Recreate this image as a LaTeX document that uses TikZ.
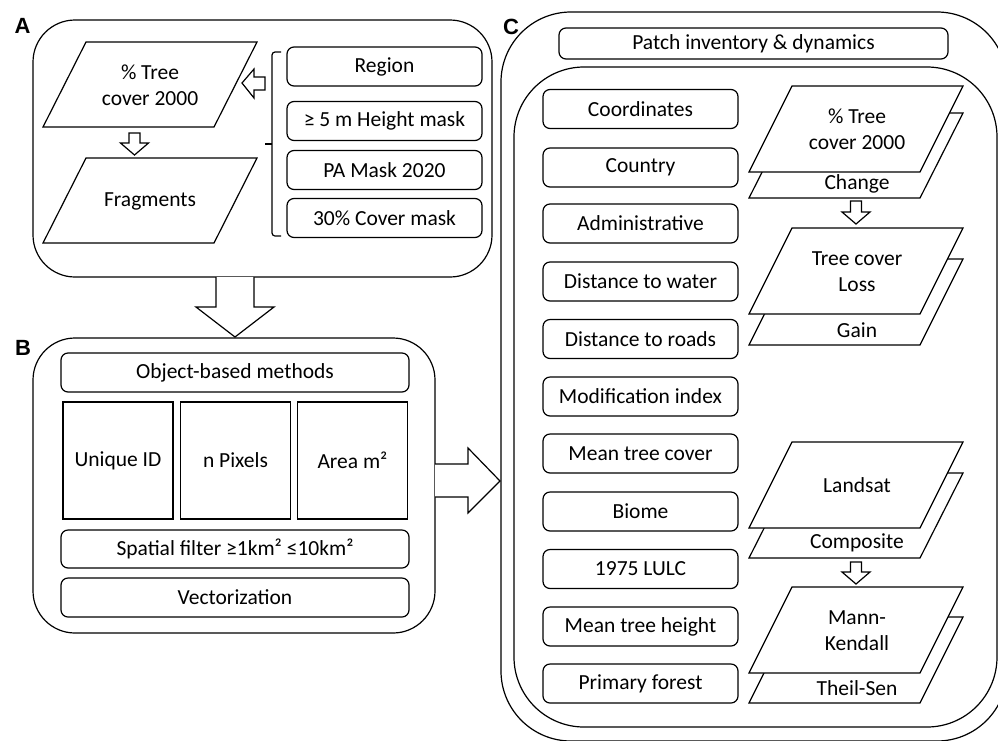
\documentclass[tikz,border=0pt]{standalone}
\usepackage{fontspec}
\setmainfont{Carlito}
\newfontfamily\labfont{Liberation Sans}
\usetikzlibrary{calc}
\newcommand\drawpara[3]{% #1 bottom-left x, #2 top y, #3 height
  \draw[fill=white, line join=miter] (#1+43,#2) -- (#1+214,#2) -- (#1+171,#2+#3) -- (#1,#2+#3) -- cycle;}
\newcommand\dnarrow[3]{% #1 centre x, #2 top y, #3 tip y
  \draw[blockarrow] (#1-5.5,#2) -- (#1+5.5,#2) -- (#1+5.5,#3-12) -- (#1+14,#3-12) -- (#1,#3) -- (#1-14,#3-12) -- (#1-5.5,#3-12) -- cycle;}
\begin{document}
\begin{tikzpicture}[x=1pt,y=-1pt, line width=1.2pt,
  txt/.style={font=\fontsize{21.5}{26}\selectfont, align=center, inner sep=0pt},
  rbox/.style={draw, rounded corners=7pt, fill=white, txt},
  lbox/.style={rbox, minimum width=195pt, minimum height=39pt},
  sqbox/.style={draw, fill=white, txt, minimum width=110pt, minimum height=117pt},
  panel/.style={draw, rounded corners=42pt, inner sep=0pt},
  bigpanel/.style={draw, rounded corners=70pt, inner sep=0pt},
  lab/.style={font=\labfont\bfseries\fontsize{22}{22}\selectfont, inner sep=0pt},
  blockarrow/.style={draw, fill=white, line join=miter}]
\useasboundingbox (0,0) rectangle (998,740);
\clip (0,0) rectangle (998,740);

% ---------------- Panel A ----------------
\node[lab] (labA) at (22.5,26) {A};
\node[panel, minimum width=459pt, minimum height=257pt] (pA) at (262.5,148.5) {};
\drawpara{43}{42}{85}
\node[txt] (tc) at (150,85) {\% Tree\\cover 2000};
\dnarrow{134.5}{133}{155}
\drawpara{43}{158}{85}
\node[txt] (frag) at (150,201) {Fragments};
\node[lbox] (region) at (384.5,66.5) {Region};
\node[lbox] (hmask) at (384.5,121) {≥ 5 m Height mask};
\node[lbox] (pamask) at (384.5,170) {PA Mask 2020};
\node[lbox] (cmask) at (384.5,218) {30\% Cover mask};
\draw[rounded corners=3pt] (281,52) -| (272,236) -- (281,236);
\draw (272,144) -- (265,144);
\draw[blockarrow] (242,83) -- (254,69) -- (254,77) -- (265,77) -- (265,90) -- (254,90) -- (254,98) -- cycle;

% arrow A -> B
\draw[blockarrow] (216,277) -- (216,307) -- (196,307) -- (235,337) -- (274,307) -- (254,307) -- (254,277);

% ---------------- Panel B ----------------
\node[lab] (labB) at (23,348) {B};
\node[panel, minimum width=402pt, minimum height=295pt] (pB) at (234,485.5) {};
\node[rbox, minimum width=348pt, minimum height=39pt] (obm) at (235,372.5) {Object-based methods};
\node[sqbox] (uid) at (118,460.5) {Unique ID};
\node[sqbox] (npx) at (235.5,460.5) {n Pixels};
\node[sqbox] (area) at (352.5,460.5) {Area m²};
\node[rbox, minimum width=348pt, minimum height=38pt] (sf) at (235,549) {Spatial filter ≥1km² ≤10km²};
\node[rbox, minimum width=348pt, minimum height=39pt] (vec) at (235,597.5) {Vectorization};

% arrow B -> C
\draw[blockarrow] (435,464) -- (468,464) -- (468,448) -- (500,481) -- (468,513) -- (468,497) -- (435,497);

% ---------------- Panel C ----------------
\node[lab] (labC) at (511,27) {C};
\node[bigpanel, minimum width=506pt, minimum height=729pt] (pC) at (754,376.5) {};
\node[rbox, minimum width=389pt, minimum height=31pt] (pid) at (753.5,43.5) {Patch inventory \& dynamics};
\node[bigpanel, minimum width=483pt, minimum height=660pt] (pCi) at (755.5,397) {};

\node[lbox] (c1) at (640.5,109) {Coordinates};
\node[lbox] (c2) at (640.5,167.5) {Country};
\node[lbox] (c3) at (640.5,223.5) {Administrative};
\node[lbox] (c4) at (640.5,281.5) {Distance to water};
\node[lbox] (c5) at (640.5,339) {Distance to roads};
\node[lbox] (c6) at (640.5,396.5) {Modification index};
\node[lbox] (c7) at (640.5,453.5) {Mean tree cover};
\node[lbox] (c8) at (640.5,511.5) {Biome};
\node[lbox] (c9) at (640.5,569) {1975 LULC};
\node[lbox] (c10) at (640.5,626.5) {Mean tree height};
\node[lbox] (c11) at (640.5,683.5) {Primary forest};

% stacked layers
\drawpara{749}{113}{85}
\drawpara{749}{86}{86}
\node[txt] (tc2) at (857,129) {\% Tree\\cover 2000};
\node[txt] (chg) at (857,184) {Change};
\dnarrow{856}{201}{224}
\drawpara{749}{259}{86}
\drawpara{749}{228}{86}
\node[txt] (loss) at (857,272) {Tree cover\\Loss};
\node[txt] (gain) at (857,330) {Gain};

\drawpara{749}{473}{85}
\drawpara{749}{442}{86}
\node[txt] (lands) at (857,485) {Landsat};
\node[txt] (comp) at (857,543) {Composite};
\dnarrow{856}{562}{584}
\drawpara{749}{617}{86}
\drawpara{749}{587}{86}
\node[txt] (mk) at (857,631) {Mann-\\Kendall};
\node[txt] (ts) at (857,688) {Theil-Sen};
\end{tikzpicture}
\end{document}
